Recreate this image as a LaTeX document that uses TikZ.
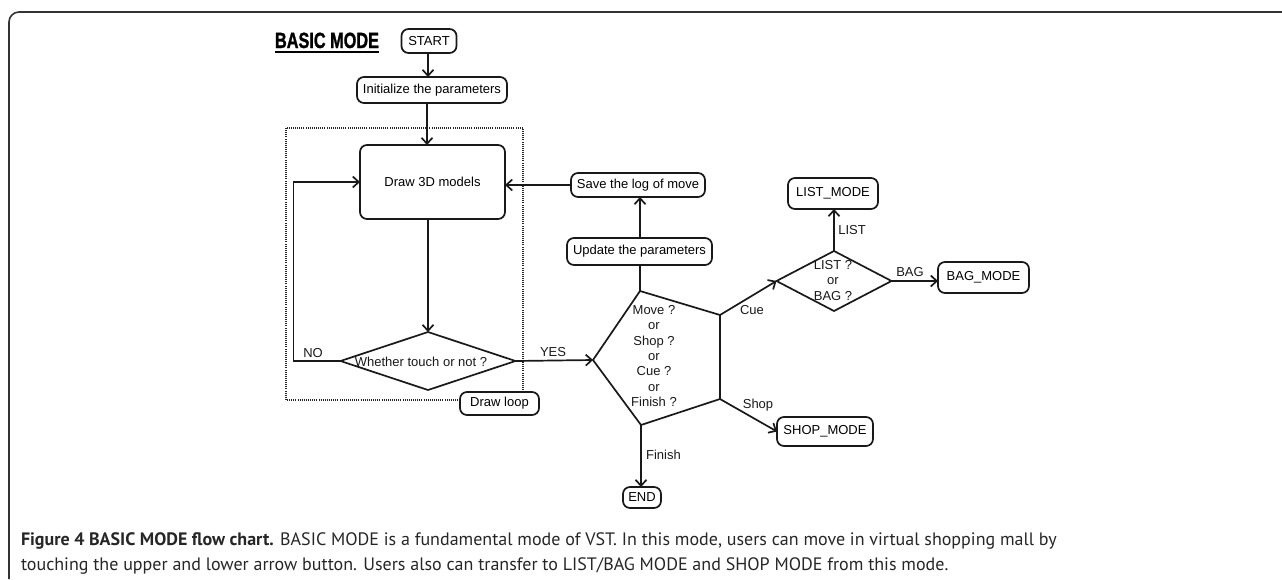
\documentclass[tikz,border=0pt]{standalone}
\usepackage{fontspec}
\setmainfont{Liberation Sans}
\newfontfamily\capfont{PT Sans}
\newfontfamily\headfont{Liberation Sans}[FakeBold=1.5]
\usetikzlibrary{arrows.meta,shapes.geometric,calc}
\begin{document}
\begin{tikzpicture}[x=1pt,y=-1pt,
  every node/.style={inner sep=0pt, outer sep=0pt},
  ln/.style={line width=1.7pt, draw=black!90},
  box/.style={draw=black!90, fill=white, line width=1.7pt, rounded corners=7pt, font=\fontsize{13}{15}\selectfont, align=center},
  dia/.style={draw=black!90, line width=1.7pt, diamond, inner sep=0pt},
  lab/.style={font=\fontsize{13}{15.3}\selectfont, align=center, text=black!90},
  arr/.style={line width=1.7pt, draw=black!90, -{Straight Barb[length=6pt,width=11pt]}},
]
\useasboundingbox (0,0) rectangle (1282,579);
% outer frame
\draw[line width=1.6pt, black!80, rounded corners=10pt] (9,579) -- (9,12) -- (1282,12);
% heading
\node[anchor=base west, text=black] (head) at (275,48) {\scalebox{0.74}[1]{\headfont\bfseries\fontsize{22}{24}\selectfont BASIC MODE}};
\draw[line width=1.8pt] ([yshift=-4pt]head.base west) -- ([yshift=-4pt]head.base east);
% dotted loop frame
\draw[line width=1.2pt, black!85, dash pattern=on 1pt off 1.1pt] (286,128) rectangle (523,400);
% nodes
\node[box, minimum width=55pt, minimum height=24pt] (start) at (429,41) {START};
\node[box, minimum width=150pt, minimum height=26pt] (init) at (432,90) {Initialize the parameters};
\node[box, minimum width=145pt, minimum height=74pt] (models) at (432.5,182) {Draw 3D models};
\node[dia, minimum width=175pt, minimum height=58pt] (touch) at (428,361) {};
\node[lab] (touchtxt) at (421,362) {Whether touch or not ?};
\node[box, minimum width=79pt, minimum height=23pt] (loop) at (499.5,403.5) {Draw loop};
\node[box, minimum width=134pt, minimum height=24pt] (save) at (638,185) {Save the log of move};
\node[box, minimum width=145pt, minimum height=27pt] (update) at (639.5,251.5) {Update the parameters};
\node[dia, minimum width=115pt, minimum height=60pt] (listdia) at (834,281) {};
\node[lab] (listtxt) at (833,280.5) {LIST ?\\or\\BAG ?};
\node[box, minimum width=90pt, minimum height=31pt] (listmode) at (833,193.5) {LIST\_MODE};
\node[box, minimum width=91pt, minimum height=31pt] (bagmode) at (983.5,277.5) {BAG\_MODE};
\node[box, minimum width=96pt, minimum height=29pt] (shopmode) at (825,431.5) {SHOP\_MODE};
\node[box, minimum width=38pt, minimum height=21pt] (end) at (642,497.5) {END};
% pentagon decision
\coordinate (p1) at (640,291);
\coordinate (p2) at (720,315);
\coordinate (p3) at (720,399);
\coordinate (p4) at (641,425);
\coordinate (p5) at (593,360);
\draw[ln, line join=miter] (p1) -- (p2) -- (p3) -- (p4) -- (p5) -- cycle;
\node[lab] (ptxt) at (654,356) {Move ?\\or\\Shop ?\\or\\Cue ?\\or\\Finish ?};
% connectors
\draw[arr] ([xshift=-1pt]start.south) -- ([xshift=-1pt]start.south |- init.north);
\draw[arr] ([xshift=-5pt]init.south) -- ([xshift=-5pt]init.south |- models.north);
\draw[arr] (models.south -| touch.north) -- (touch.north);
\draw[arr] (touch.west) -- ++(-47,0) |- (models.west);
\draw[arr] (touch.east) -- (p5);
\draw[ln] (p1) -- (p1 |- update.south);
\draw[arr] ([xshift=0.5pt]update.north) -- ([xshift=0.5pt]update.north |- save.south);
\draw[arr] (save.west) -- (save.west -| models.east);
\draw[arr] (p2) -- (listdia.west);
\draw[arr] (listdia.north) -- (listdia.north |- listmode.south);
\draw[arr] (listdia.east) -- (listdia.east -| bagmode.west);
\draw[arr] (p3) -- (shopmode.west);
\draw[arr] (p4) -- (p4 |- end.north);
% labels
\node[lab] at (313,353) {NO};
\node[lab] at (553,352) {YES};
\node[lab] at (752,310) {Cue};
\node[lab] at (852,230) {LIST};
\node[lab] at (910,272) {BAG};
\node[lab] at (758,405) {Shop};
\node[lab] at (663.5,455) {Finish};
% caption
\node[anchor=base west, font=\capfont\fontsize{18}{22}\selectfont, text=black!85] (cap1) at (21,545) {\textbf{Figure 4 BASIC MODE flow chart.} BASIC MODE is a fundamental mode of VST. In this mode, users can move in virtual shopping mall by};
\node[anchor=base west, font=\capfont\fontsize{18}{22}\selectfont, text=black!85] (cap2) at (21,570) {touching the upper and lower arrow button. Users also can transfer to LIST/BAG MODE and SHOP MODE from this mode.};
\end{tikzpicture}
\end{document}
